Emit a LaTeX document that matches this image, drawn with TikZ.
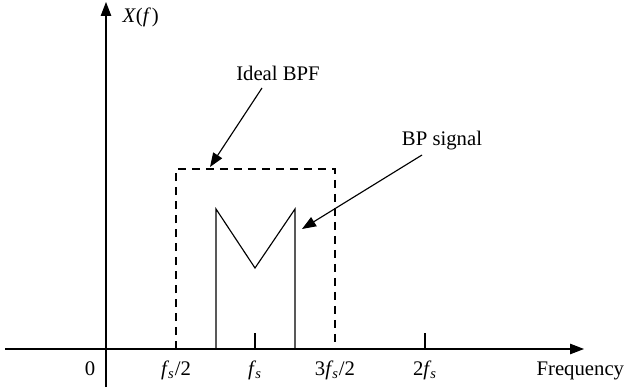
\documentclass[tikz,border=0pt]{standalone}
\usepackage{fontspec}
\setmainfont{Liberation Serif}
\usetikzlibrary{arrows.meta}

\newcommand{\fsub}{\textit{f}\kern-0.05em\textsubscript{\textit{s}}}

\begin{document}
\begin{tikzpicture}[x=0.02cm, y=-0.02cm, line width=0.65pt,
	every node/.style={font=\fontsize{11.8}{14}\selectfont, inner sep=0pt},
	>={Triangle[length=0.28cm, width=0.21cm]},
	filterline/.style={dash pattern=on 0.17cm off 0.11cm},
	ticklabel/.style={anchor=base}]
	\useasboundingbox (0,0) rectangle (625,388);
	% axes
	\coordinate (xstart) at (5,349);
	\coordinate (xend) at (584,349);
	\coordinate (ystart) at (106,387);
	\coordinate (yend) at (106,2);
	\draw[->] (xstart) -- (xend);
	\draw[->] (ystart) -- (yend);
	\node[anchor=base west] (xf) at (122,23) {\textit{X}(\textit{f}\kern0.05em)};
	\node[anchor=base west] (freq) at (536,375) {Frequency};
	% tick labels
	\node[ticklabel] (zero) at (90,375) {0};
	\node[ticklabel] (half) at (176,375) {\fsub/2};
	\node[ticklabel] (one) at (255,375) {\fsub};
	\node[ticklabel] (threehalf) at (335,375) {3\fsub/2};
	\node[ticklabel] (two) at (425,375) {2\fsub};
	% ticks
	\draw (255,333) -- (255,349);
	\draw (425,333) -- (425,349);
	% ideal band-pass filter
	\draw[filterline] (176,349) -- (176,169) -- (335,169) -- (335,349);
	% band-pass signal
	\draw (216,349) -- (216,209) -- (255,268) -- (295,209) -- (295,349);
	% annotations
	\node[anchor=base] (bpf) at (278,81) {Ideal BPF};
	\node[anchor=base] (bps) at (442,146) {BP signal};
	\coordinate (bpftip) at (210,167);
	\coordinate (bpstip) at (302,229);
	\draw[->] (262,88) -- (bpftip);
	\draw[->] (422,155) -- (bpstip);
\end{tikzpicture}
\end{document}
